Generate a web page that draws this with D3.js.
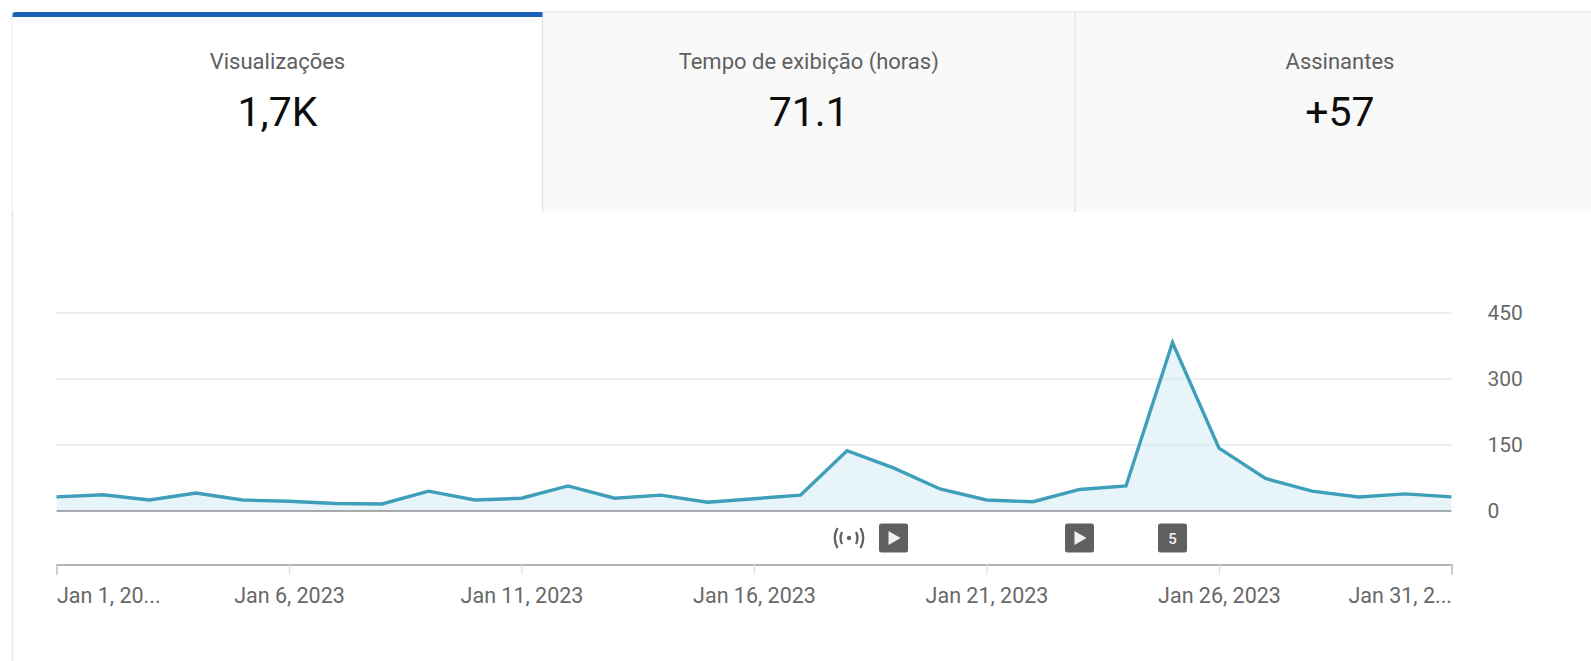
<!DOCTYPE html>
<html lang="pt">
<head>
<meta charset="utf-8">
<title>Visualizações</title>
<script src="https://cdn.jsdelivr.net/npm/d3@7"></script>
<style>
  html, body { margin: 0; background: #fff; overflow: hidden; }
  svg { display: block; font-family: Roboto, sans-serif; }
</style>
</head>
<body>
<div id="chart"></div>
<script>
// ------- Data
const days = [1, 2, 3, 4, 5, 6, 7, 8, 9, 10, 11, 12, 13, 14, 15, 16, 17, 18, 19, 20, 21, 22, 23, 24, 25, 26, 27, 28, 29, 30, 31];
const views = [32, 37, 25, 41, 25, 22, 17, 16, 45, 25, 29, 57, 29, 36, 20, 28, 36, 137, 98, 50, 25, 21, 49, 57, 383, 143, 74, 45, 32, 39, 32];
const yTicks = [0, 150, 300, 450];
const xTickDays = [1, 6, 11, 16, 21, 26, 31];
const xTickLabels = ['Jan 1, 20...', 'Jan 6, 2023', 'Jan 11, 2023', 'Jan 16, 2023', 'Jan 21, 2023', 'Jan 26, 2023', 'Jan 31, 2...'];
const tabLabels = ['Visualizações', 'Tempo de exibição (horas)', 'Assinantes'];
const tabValues = ['1,7K', '71.1', '+57'];
const eventDays = [18, 19, 23, 25];
const eventKinds = ['live', 'play', 'play', 'count'];
const eventText = ['', '', '', '5'];

// ------- Dimensions
const width = 1591, height = 661;
const plot = { left: 56.5, right: 1451.5, top: 313, bottom: 511 };
// last tab runs past the window edge, its text is centred on the full tab
const tabEdges = [12.5, 542.5, 1075, 1605];

const svg = d3.select('#chart').append('svg')
    .attr('width', width)
    .attr('height', height)
    .attr('viewBox', `0 0 ${width} ${height}`);

// ------- Tabs
svg.append('line')
    .attr('x1', 12.5).attr('x2', 12.5)
    .attr('y1', 12).attr('y2', height)
    .attr('stroke', '#e6e6e6').attr('stroke-width', 1.5);

const tabs = svg.append('g').selectAll('g')
    .data(tabLabels)
    .join('g');

tabs.append('rect')
    .attr('x', (d, i) => tabEdges[i])
    .attr('y', 12)
    .attr('width', (d, i) => tabEdges[i + 1] - tabEdges[i])
    .attr('height', 200)
    .attr('fill', (d, i) => i === 0 ? '#fff' : '#f9f9f9');

// dividers and top edge of the inactive tabs
svg.append('g').selectAll('line')
    .data(tabEdges.slice(1, 3))
    .join('line')
    .attr('x1', d => d).attr('x2', d => d)
    .attr('y1', 12).attr('y2', 212)
    .attr('stroke', '#e2e2e2').attr('stroke-width', 1.2);

svg.append('line')
    .attr('x1', tabEdges[1]).attr('x2', width)
    .attr('y1', 12).attr('y2', 12)
    .attr('stroke', '#e6e6e6').attr('stroke-width', 1.2);

// active tab marker
svg.append('path')
    .attr('d', `M${tabEdges[0]} 17 V15 Q${tabEdges[0]} 12 ${tabEdges[0] + 3} 12 H${tabEdges[1]} V17 Z`)
    .attr('fill', '#1c62b9');

tabs.append('text')
    .attr('x', (d, i) => (tabEdges[i] + tabEdges[i + 1]) / 2)
    .attr('y', 69)
    .attr('text-anchor', 'middle')
    .attr('font-size', 22)
    .attr('fill', '#606060')
    .text(d => d);

tabs.append('text')
    .attr('x', (d, i) => (tabEdges[i] + tabEdges[i + 1]) / 2)
    .attr('y', 126)
    .attr('text-anchor', 'middle')
    .attr('font-size', 41)
    .attr('fill', '#0d0d0d')
    .text((d, i) => tabValues[i]);

// ------- Scales
const x = d3.scaleLinear().domain([1, 31]).range([plot.left, plot.right]);
const y = d3.scaleLinear().domain([0, 450]).range([plot.bottom, plot.top]);

// ------- Grid + right axis
svg.append('g')
    .attr('transform', `translate(${plot.right},0)`)
    .call(d3.axisRight(y).tickValues(yTicks).tickSize(0))
    .call(g => g.select('.domain').remove())
    .call(g => g.selectAll('.tick text')
        .attr('x', 36)
        .attr('font-family', 'Roboto, sans-serif')
        .attr('font-size', 21)
        .attr('fill', '#686868'));

svg.append('g').selectAll('line')
    .data(yTicks.filter(d => d > 0))
    .join('line')
    .attr('x1', plot.left).attr('x2', plot.right)
    .attr('y1', d => y(d)).attr('y2', d => y(d))
    .attr('stroke', '#eeeeee').attr('stroke-width', 2);

// ------- Area + line
const area = d3.area()
    .x((d, i) => x(days[i]))
    .y0(y(0))
    .y1(d => y(d));

const line = d3.line()
    .x((d, i) => x(days[i]))
    .y(d => y(d));

svg.append('path')
    .attr('d', area(views))
    .attr('fill', '#cfe9f3')
    .attr('fill-opacity', 0.5);

svg.append('line')
    .attr('x1', plot.left).attr('x2', plot.right)
    .attr('y1', y(0)).attr('y2', y(0))
    .attr('stroke', '#8f8f8f').attr('stroke-width', 1.5);

svg.append('path')
    .attr('d', line(views))
    .attr('fill', 'none')
    .attr('stroke', '#3f9fba')
    .attr('stroke-width', 3.4)
    .attr('stroke-linejoin', 'miter');

// ------- Event markers
const eventY = 538;
const events = svg.append('g').selectAll('g')
    .data(eventDays)
    .join('g')
    .attr('transform', d => `translate(${x(d)},${eventY})`);

events.filter((d, i) => eventKinds[i] !== 'live')
    .append('rect')
    .attr('x', -14.5).attr('y', -14.5)
    .attr('width', 29).attr('height', 29)
    .attr('rx', 2.5)
    .attr('fill', '#606060');

events.filter((d, i) => eventKinds[i] === 'play')
    .append('path')
    .attr('d', 'M-5 -7 L7 0 L-5 7 Z')
    .attr('fill', '#f2f2f2');

events.filter((d, i) => eventKinds[i] === 'count')
    .append('text')
    .attr('text-anchor', 'middle')
    .attr('y', 5.5)
    .attr('font-size', 15)
    .attr('font-weight', 500)
    .attr('fill', '#f2f2f2')
    .text(d => eventText[eventDays.indexOf(d)]);

// live icon: dot with radio arcs either side
const live = events.filter((d, i) => eventKinds[i] === 'live')
    .attr('transform', d => `translate(${x(d) + 2},${eventY})`);
live.append('circle').attr('r', 2.2).attr('fill', '#606060');
live.append('path')
    .attr('d', 'M-7 -6 Q-10 0 -7 6 M7 -6 Q10 0 7 6 M-11.5 -10 Q-17 0 -11.5 10 M11.5 -10 Q17 0 11.5 10')
    .attr('fill', 'none')
    .attr('stroke', '#606060')
    .attr('stroke-width', 2.3);

// ------- Bottom time axis
svg.append('g')
    .attr('transform', 'translate(0,564.5)')
    .call(d3.axisBottom(x).tickValues(xTickDays).tickSize(10).tickPadding(13)
        .tickFormat((d, i) => xTickLabels[i]))
    .call(g => g.select('.domain').attr('stroke', '#b5b5b5').attr('stroke-width', 2))
    .call(g => g.selectAll('.tick line').attr('stroke', '#dddddd').attr('stroke-width', 1.2))
    .call(g => g.selectAll('.tick text')
        .attr('font-family', 'Roboto, sans-serif')
        .attr('font-size', 21.5)
        .attr('fill', '#686868')
        .attr('text-anchor', (d, i) => i === 0 ? 'start' : i === xTickDays.length - 1 ? 'end' : 'middle'));
</script>
</body>
</html>
